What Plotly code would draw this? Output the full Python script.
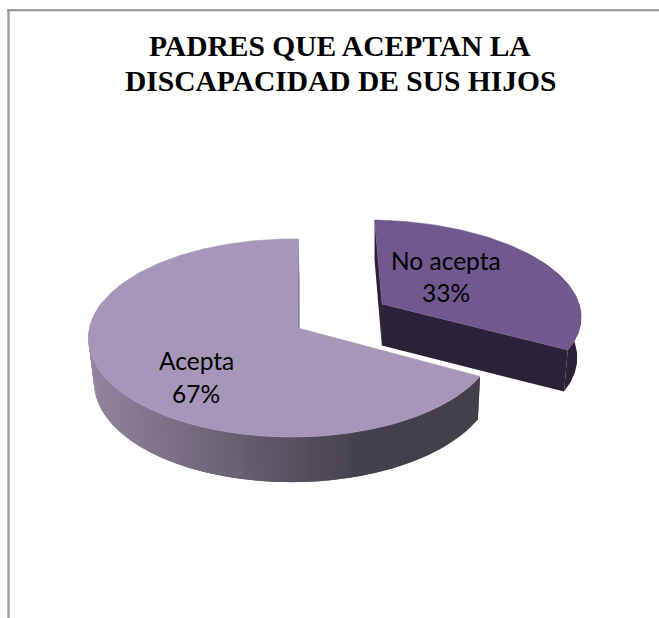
import math
import plotly.graph_objects as go

# Chart data
categories = ["Acepta", "No acepta"]
percentages = [67, 33]
title_lines = ["PADRES QUE ACEPTAN LA", "DISCAPACIDAD DE SUS HIJOS"]

# Perspective camera for the tilted pie, in canvas pixels
WIDTH, HEIGHT = 659, 618
ORIGIN_X, ORIGIN_Y = 298.0, 328.0
SCALE_X, SCALE_Y = 202.7, 98.0
TILT_V, TILT_U, TILT_Z = -0.101, 0.0278, 0.0196
DROP_X, DROP_Y = 1.4, 43.5
EXPLODE = 0.50
EXPLODED_WIDEN = 1.05


def project(u, v, z=0.0):
    """Map a point on the pie (unit radius, z=1 at the base) to the canvas."""
    den = 1 + TILT_V * v + TILT_U * u + TILT_Z * z
    return (ORIGIN_X + (SCALE_X * u + DROP_X * z) / den,
            ORIGIN_Y + (SCALE_Y * v + DROP_Y * z) / den)


def rim(angle, ou=0.0, ov=0.0, widen=1.0):
    """Rim position for a clockwise angle measured from 12 o'clock."""
    rad = math.radians(angle)
    return ou + widen * math.sin(rad), ov - math.cos(rad)


def polygon(points, color, name=None, outline=0.6):
    xs = [p[0] for p in points] + [points[0][0]]
    ys = [p[1] for p in points] + [points[0][1]]
    return go.Scatter(x=xs, y=ys, mode="lines", fill="toself", fillcolor=color,
                      line=dict(color=color, width=outline), hoverinfo="skip",
                      showlegend=False, name=name)


def mix(c0, c1, f):
    f = max(0.0, min(1.0, f))
    return "rgb({},{},{})".format(*[round(a + (b - a) * f) for a, b in zip(c0, c1)])


def arc_steps(a0, a1, step=1.0):
    n = max(2, int(abs(a1 - a0) / step))
    return [a0 + (a1 - a0) * i / n for i in range(n + 1)]


WALL_LIGHT = (146, 132, 158)
WALL_DARK = (68, 64, 75)
fig = go.Figure()

# Slices run clockwise from 12 o'clock, "No acepta" first
split = percentages[1] / sum(percentages) * 360

# Large slice, resting in place
first_u, first_v = rim(360)
fig.add_trace(polygon([project(0, 0), project(first_u, first_v),
                       project(first_u, first_v, 1), project(0, 0, 1)], "#7f7691"))
# Outer wall, shaded strip by strip; each strip overlaps the previous one
wall = arc_steps(split, 285)
for i in range(len(wall) - 1):
    u0, v0 = rim(wall[max(i - 1, 0)])
    u1, v1 = rim(wall[i + 1])
    mid_x = project((u0 + u1) / 2, (v0 + v1) / 2, 1)[0]
    shade = mix(WALL_LIGHT, WALL_DARK, (mid_x - 95) / 265)
    fig.add_trace(polygon([project(u0, v0), project(u1, v1),
                           project(u1, v1, 1), project(u0, v0, 1)], shade, outline=0))
angles = arc_steps(split, 360)
fig.add_trace(polygon([project(0, 0)] + [project(*rim(a)) for a in angles],
                      "#a697ba", categories[0]))

# Smaller slice, pulled out along its bisector
mid = math.radians(split / 2)
ou, ov = EXPLODE * math.sin(mid), -EXPLODE * math.cos(mid)
dark = "#2c2237"
wall = arc_steps(55, split)
wall_top = [project(*rim(a, ou, ov, EXPLODED_WIDEN)) for a in wall]
wall_base = [project(*rim(a, ou, ov, EXPLODED_WIDEN), 1) for a in wall]
fig.add_trace(polygon(wall_top + wall_base[::-1], dark, outline=0))
for edge in (0, split):
    eu, ev = rim(edge, ou, ov, EXPLODED_WIDEN)
    fig.add_trace(polygon([project(ou, ov), project(eu, ev),
                           project(eu, ev, 1), project(ou, ov, 1)], dark, outline=0))
top = [project(*rim(a, ou, ov, EXPLODED_WIDEN)) for a in arc_steps(0, split)]
fig.add_trace(polygon([project(ou, ov)] + top, "#71588f", categories[1]))

# Chart frame: only the top and left edges are visible
fig.add_shape(type="line", x0=8.5, x1=8.5, y0=9.3, y1=HEIGHT,
              line=dict(color="#9c9c9c", width=2.4))
fig.add_shape(type="line", x0=7.3, x1=WIDTH, y0=10.3, y1=10.3,
              line=dict(color="#8e8e8e", width=2))

# Title, one annotation per line to hold the wide leading
for text, y in zip(title_lines, (46, 81)):
    fig.add_annotation(x=340, y=y, text=f"<b>{text}</b>", showarrow=False,
                       font=dict(family="Liberation Serif", size=29.5, color="#000000"))

# Data labels: category above percentage
label_positions = [(196, 360, 393), (446, 260, 292)]
for name, pct, (x, y0, y1) in zip(categories, percentages, label_positions):
    for text, y in ((name, y0), (f"{pct}%", y1)):
        fig.add_annotation(x=x, y=y, text=text, showarrow=False,
                           font=dict(family="Lato", size=24.5, color="#000000"))

fig.update_layout(
    width=WIDTH, height=HEIGHT, margin=dict(l=0, r=0, t=0, b=0),
    paper_bgcolor="#ffffff", plot_bgcolor="#ffffff", showlegend=False,
    xaxis=dict(range=[0, WIDTH], visible=False, fixedrange=True),
    yaxis=dict(range=[HEIGHT, 0], visible=False, fixedrange=True),
)
fig.write_html("out.html", config={"displayModeBar": False})
